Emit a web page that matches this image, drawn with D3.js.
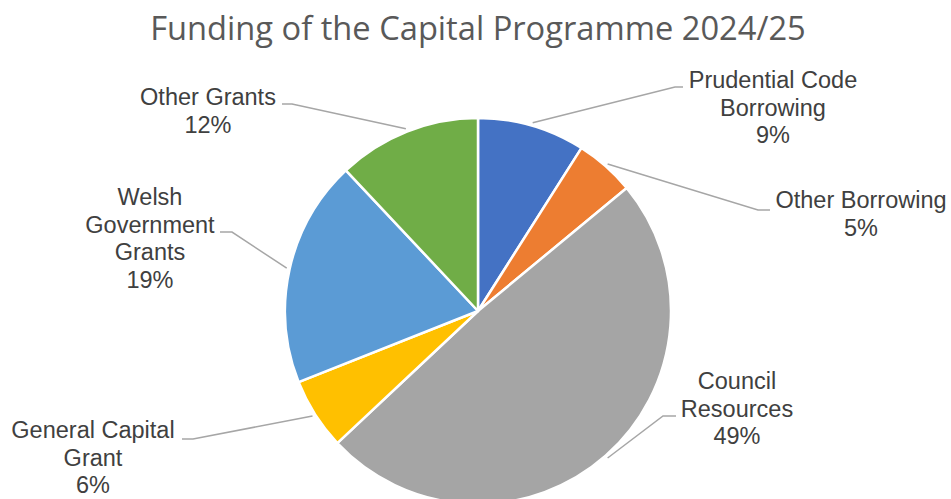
<!DOCTYPE html>
<html>
<head>
<meta charset="utf-8">
<script src="https://cdn.jsdelivr.net/npm/d3@7/dist/d3.min.js"></script>
<style>
  html, body { margin: 0; padding: 0; background: #fff; }
  svg { display: block; }
</style>
</head>
<body>
<svg id="chart" width="951" height="499"></svg>
<script>
// Funding sources, in clockwise order from 12 o'clock
const categories = [
  "Prudential Code Borrowing",
  "Other Borrowing",
  "Council Resources",
  "General Capital Grant",
  "Welsh Government Grants",
  "Other Grants"
];
const shares = [9, 5, 49, 6, 19, 12];
const colors = ["#4472C4", "#ED7D31", "#A5A5A5", "#FFC000", "#5B9BD5", "#70AD47"];
const title = "Funding of the Capital Programme 2024/25";

// Label placement: wrapped lines, text centre, first baseline, elbow of the leader, end of the leader
const labelLayout = [
  { lines: ["Prudential Code", "Borrowing"], x: 773, y: 88, elbow: [675, 87], end: 683 },
  { lines: ["Other Borrowing"], x: 861, y: 208, elbow: [758, 210], end: 770 },
  { lines: ["Council", "Resources"], x: 737, y: 389, elbow: [663, 416], end: 676 },
  { lines: ["General Capital", "Grant"], x: 93, y: 438, elbow: [193, 439], end: 182 },
  { lines: ["Welsh", "Government", "Grants"], x: 150, y: 205, elbow: [232, 232], end: 220 },
  { lines: ["Other Grants"], x: 208, y: 105, elbow: [292, 104], end: 282 }
];

const svg = d3.select("#chart");
const cx = 478, cy = 311, radius = 193;
const lineHeight = 27.5;

// Title
const titleText = svg.append("text")
  .attr("x", cx)
  .attr("y", 40)
  .attr("text-anchor", "middle")
  .attr("fill", "#595959")
  .style("font-family", "'Open Sans', 'Noto Sans', sans-serif")
  .style("font-size", "31px")
  .text(title);
const tw = titleText.node().getComputedTextLength();
titleText.style("font-size", (31 * 656 / tw) + "px");

const total = d3.sum(shares);
const data = categories.map((c, i) => ({ name: c, value: shares[i], color: colors[i], layout: labelLayout[i] }));

const pie = d3.pie().value(d => d.value).sort(null);
const arc = d3.arc().innerRadius(0).outerRadius(radius);
const arcs = pie(data);

const g = svg.append("g").attr("transform", `translate(${cx},${cy})`);

g.selectAll("path.slice")
  .data(arcs)
  .join("path")
  .attr("class", "slice")
  .attr("d", arc)
  .attr("fill", d => d.data.color)
  .attr("stroke", "#ffffff")
  .attr("stroke-width", 2.5)
  .attr("stroke-linejoin", "round");

// Leader lines from the slice edge at its mid-angle to the label
const leaderR = radius + 3;
svg.selectAll("polyline.leader")
  .data(arcs)
  .join("polyline")
  .attr("class", "leader")
  .attr("fill", "none")
  .attr("stroke", "#A6A6A6")
  .attr("stroke-width", 1.5)
  .attr("points", d => {
    const a = (d.startAngle + d.endAngle) / 2;
    const sx = cx + leaderR * Math.sin(a);
    const sy = cy - leaderR * Math.cos(a);
    const L = d.data.layout;
    return [[sx, sy], L.elbow, [L.end, L.elbow[1]]].map(p => p.join(",")).join(" ");
  });

// Category and percentage labels
const labels = svg.selectAll("text.label")
  .data(arcs)
  .join("text")
  .attr("class", "label")
  .attr("text-anchor", "middle")
  .attr("fill", "#404040")
  .style("font-family", "'Liberation Sans', Arial, sans-serif")
  .style("font-size", "23.5px");

labels.each(function(d) {
  const L = d.data.layout;
  const t = d3.select(this);
  const lines = L.lines.concat([Math.round(d.data.value / total * 100) + "%"]);
  lines.forEach((s, i) => {
    t.append("tspan")
      .attr("x", L.x)
      .attr("y", L.y + i * lineHeight)
      .text(s);
  });
});
</script>
</body>
</html>
